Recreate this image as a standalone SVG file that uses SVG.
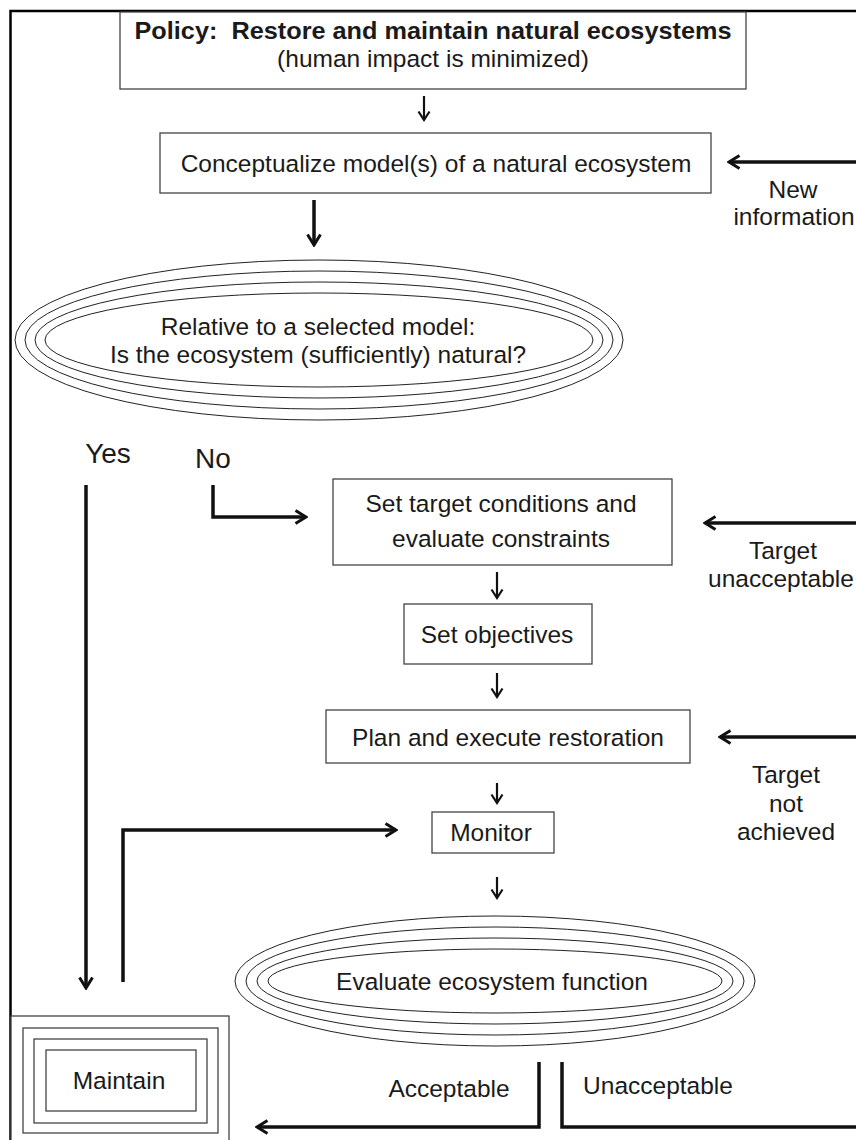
<svg xmlns="http://www.w3.org/2000/svg" width="856" height="1140" viewBox="0 0 856 1140">
<defs>
<style>
.box{fill:#fff;stroke:#444;stroke-width:1.3}
.ring{fill:none;stroke:#222;stroke-width:1}
.t{font-family:"Liberation Sans",Arial,sans-serif;font-size:24.5px;fill:#1a1a1a;text-anchor:middle}
.b{font-weight:bold;white-space:pre}
.big{font-size:28px}
.c{fill:none;stroke:#111;stroke-width:3.5}
.cs{fill:none;stroke:#111;stroke-width:2.2}
</style>
<marker id="ah" viewBox="0 0 14 16" refX="12" refY="8" markerWidth="14" markerHeight="16" markerUnits="userSpaceOnUse" orient="auto">
<path d="M1.5,1.5 L12,8 L1.5,14.5" fill="none" stroke="#111" stroke-width="3"/>
</marker>
<marker id="ahs" viewBox="0 0 12 14" refX="10" refY="7" markerWidth="12" markerHeight="14" markerUnits="userSpaceOnUse" orient="auto">
<path d="M1.5,1.5 L10,7 L1.5,12.5" fill="none" stroke="#111" stroke-width="2.2"/>
</marker>
</defs>
<rect width="856" height="1140" fill="#fff"/>
<path d="M10.5,1140 V11 H856" fill="none" stroke="#000" stroke-width="2.5"/>

<g id="policy">
<rect class="box" x="120" y="12" width="626" height="77"/>
<text class="t b" x="433" y="39" textLength="597" lengthAdjust="spacingAndGlyphs">Policy:  Restore and maintain natural ecosystems</text>
<text class="t" x="433" y="67">(human impact is minimized)</text>
</g>

<g id="conceptualize">
<rect class="box" x="160" y="133" width="551" height="60"/>
<text class="t" x="436" y="172">Conceptualize model(s) of a natural ecosystem</text>
</g>

<g id="natural-question">
<ellipse class="ring" cx="319" cy="340" rx="304" ry="80"/>
<ellipse class="ring" cx="319" cy="340" rx="294" ry="69"/>
<ellipse class="ring" cx="319" cy="340" rx="284" ry="58"/>
<ellipse class="ring" cx="319" cy="340" rx="274" ry="47"/>
<text class="t" x="318" y="335">Relative to a selected model:</text>
<text class="t" x="318" y="363">Is the ecosystem (sufficiently) natural?</text>
</g>

<g id="set-target">
<rect class="box" x="333" y="479" width="339" height="86"/>
<text class="t" x="501" y="512">Set target conditions and</text>
<text class="t" x="501" y="547">evaluate constraints</text>
</g>

<g id="set-objectives">
<rect class="box" x="404" y="604" width="188" height="60"/>
<text class="t" x="497" y="643">Set objectives</text>
</g>

<g id="plan">
<rect class="box" x="326" y="710" width="364" height="53"/>
<text class="t" x="508" y="746">Plan and execute restoration</text>
</g>

<g id="monitor">
<rect class="box" x="432" y="812" width="122" height="41"/>
<text class="t" x="491" y="841">Monitor</text>
</g>

<g id="evaluate">
<ellipse class="ring" cx="495" cy="981" rx="260" ry="65"/>
<ellipse class="ring" cx="495" cy="981" rx="249" ry="54"/>
<ellipse class="ring" cx="495" cy="981" rx="238" ry="43"/>
<ellipse class="ring" cx="495" cy="981" rx="227" ry="32"/>
<text class="t" x="492" y="990">Evaluate ecosystem function</text>
</g>

<g id="maintain">
<rect class="box" x="11" y="1016" width="218" height="130"/>
<rect class="box" x="23" y="1028" width="195" height="105"/>
<rect class="box" x="34" y="1039" width="173" height="84"/>
<rect class="box" x="46" y="1050" width="150" height="61"/>
<text class="t" x="119" y="1089">Maintain</text>
</g>

<g id="labels">
<text class="t big" x="108" y="463">Yes</text>
<text class="t big" x="213" y="468">No</text>
<text class="t" x="793" y="198">New</text>
<text class="t" x="794" y="225">information</text>
<text class="t" x="783" y="559">Target</text>
<text class="t" x="781" y="587">unacceptable</text>
<text class="t" x="786" y="783">Target</text>
<text class="t" x="786" y="812">not</text>
<text class="t" x="786" y="840">achieved</text>
<text class="t" x="449" y="1097">Acceptable</text>
<text class="t" x="658" y="1094">Unacceptable</text>
</g>

<g id="connectors">
<path class="cs" d="M424,96 V120" marker-end="url(#ahs)"/>
<path class="c" d="M856,162 H729" marker-end="url(#ah)"/>
<path class="c" d="M314,200 V245" marker-end="url(#ah)"/>
<path class="c" d="M86,485 V988" marker-end="url(#ah)"/>
<path class="c" d="M213,485 V517 H306" marker-end="url(#ah)"/>
<path class="c" d="M856,523 H705" marker-end="url(#ah)"/>
<path class="cs" d="M497,572 V598" marker-end="url(#ahs)"/>
<path class="cs" d="M497,673 V697" marker-end="url(#ahs)"/>
<path class="c" d="M856,737 H720" marker-end="url(#ah)"/>
<path class="cs" d="M497,783 V803" marker-end="url(#ahs)"/>
<path class="c" d="M123,982 V830 H396" marker-end="url(#ah)"/>
<path class="cs" d="M497,877 V898" marker-end="url(#ahs)"/>
<path class="c" d="M539,1062 V1127 H257" marker-end="url(#ah)"/>
<path class="c" d="M562,1062 V1127 H856"/>
</g>
</svg>
